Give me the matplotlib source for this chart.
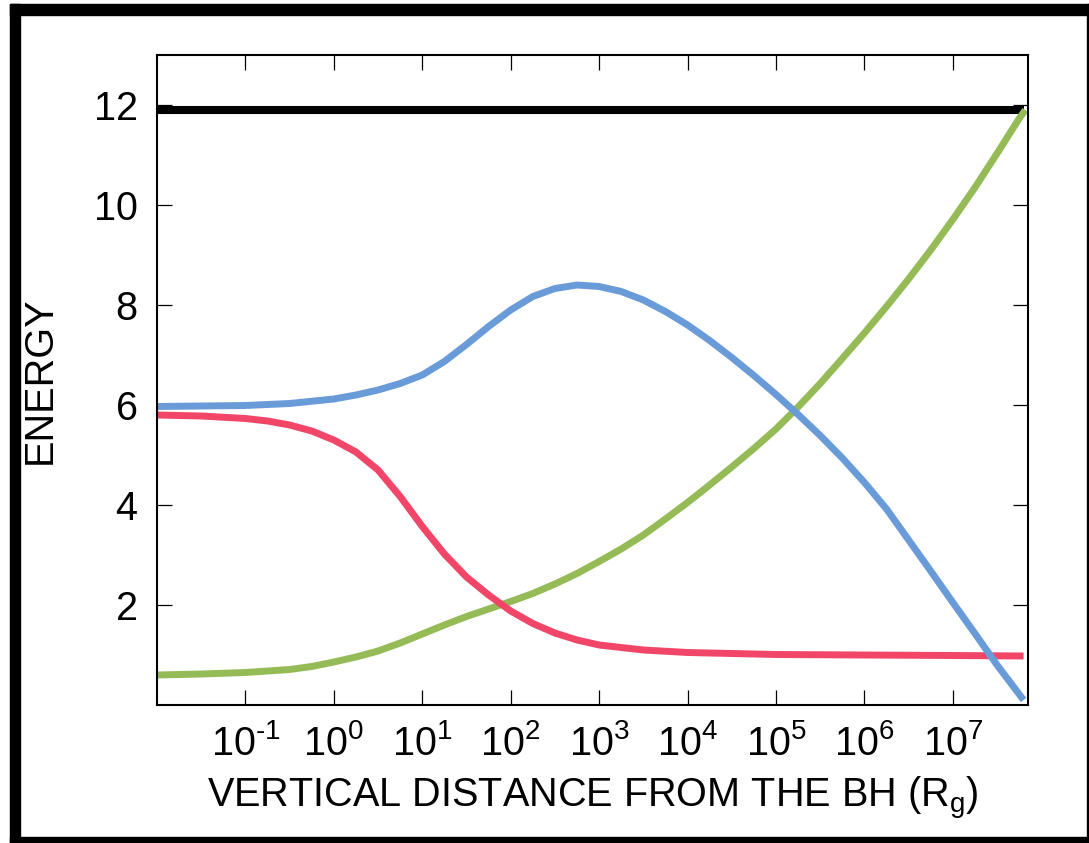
import numpy as np
import matplotlib
matplotlib.use("Agg")
import matplotlib.pyplot as plt
from matplotlib.patches import Rectangle

plt.rcParams['font.family'] = ['Liberation Sans', 'DejaVu Sans']
plt.rcParams['mathtext.fontset'] = 'custom'
plt.rcParams['mathtext.rm'] = 'Liberation Sans'
plt.rcParams['mathtext.it'] = 'Liberation Sans:italic'
plt.rcParams['mathtext.default'] = 'regular'

# ---- data (log10 of distance, energy) ----
blue_log = [-2.0, -1.0, -0.5, 0.0, 0.25, 0.5, 0.75, 1.0, 1.25, 1.5, 1.75, 2.0, 2.25, 2.5,
            2.75, 3.0, 3.25, 3.5, 3.75, 4.0, 4.25, 4.5, 4.75, 5.0, 5.25, 5.5, 5.75, 6.0,
            6.25, 6.5, 6.75, 7.0, 7.25, 7.5, 7.8]
blue_E = [5.97, 5.99, 6.03, 6.12, 6.2, 6.3, 6.43, 6.6, 6.87, 7.21, 7.57, 7.9, 8.17, 8.33,
          8.4, 8.37, 8.27, 8.1, 7.87, 7.6, 7.29, 6.95, 6.59, 6.21, 5.81, 5.39, 4.94, 4.45,
          3.92, 3.3, 2.68, 2.05, 1.43, 0.8, 0.1]

green_log = [-2.0, -1.5, -1.0, -0.5, -0.25, 0.0, 0.25, 0.5, 0.75, 1.0, 1.25, 1.5, 1.75,
             2.0, 2.25, 2.5, 2.75, 3.0, 3.25, 3.5, 3.75, 4.0, 4.25, 4.5, 4.75, 5.0, 5.25,
             5.5, 5.75, 6.0, 6.25, 6.5, 6.75, 7.0, 7.25, 7.5, 7.75, 7.82]
green_E = [0.6, 0.62, 0.65, 0.71, 0.77, 0.86, 0.96, 1.08, 1.24, 1.42, 1.6, 1.77, 1.92,
           2.07, 2.23, 2.42, 2.63, 2.87, 3.12, 3.4, 3.72, 4.05, 4.4, 4.76, 5.13, 5.52, 5.96,
           6.43, 6.93, 7.44, 7.97, 8.52, 9.1, 9.71, 10.35, 11.03, 11.73, 11.9]

red_log = [-2.0, -1.5, -1.0, -0.75, -0.5, -0.25, 0.0, 0.25, 0.5, 0.75, 1.0, 1.25, 1.5,
           1.75, 2.0, 2.25, 2.5, 2.75, 3.0, 3.5, 4.0, 4.5, 5.0, 6.0, 7.0, 7.8]
red_E = [5.8, 5.78, 5.73, 5.68, 5.6, 5.48, 5.3, 5.06, 4.7, 4.17, 3.57, 3.02, 2.56,
         2.2, 1.88, 1.63, 1.44, 1.3, 1.2, 1.1, 1.05, 1.03, 1.01, 1.0, 0.99, 0.98]

black_log = [-2.0, 7.8]
black_E = [11.9, 11.9]

xtick_exp = [-1, 0, 1, 2, 3, 4, 5, 6, 7]
xtick_labels = [r'$10^{\text{-}1}$', r'$10^{0}$', r'$10^{1}$', r'$10^{2}$', r'$10^{3}$',
                r'$10^{4}$', r'$10^{5}$', r'$10^{6}$', r'$10^{7}$']
yticks = [2, 4, 6, 8, 10, 12]

BLUE = '#6a9bd9'
RED = '#f24668'
GREEN = '#95bb57'

W, H = 1089, 843
fig = plt.figure(figsize=(W / 100, H / 100), dpi=100)
ax = fig.add_axes([157 / W, 1 - 705 / H, (1028 - 157) / W, (705 - 55) / H])

to_x = lambda l: [10.0 ** v for v in l]
ax.plot(to_x(black_log), black_E, color='black', lw=5.8, solid_capstyle='butt')
ax.plot(to_x(green_log), green_E, color=GREEN, lw=5.0, solid_capstyle='butt', solid_joinstyle='round')
ax.plot(to_x(red_log), red_E, color=RED, lw=5.0, solid_capstyle='butt', solid_joinstyle='round')
ax.plot(to_x(blue_log), blue_E, color=BLUE, lw=5.0, solid_capstyle='butt', solid_joinstyle='round')

ax.set_xscale('log')
ax.set_xlim(10 ** -2.0, 10 ** 7.85)
ax.set_ylim(0, 13)
ax.set_xticks([10.0 ** e for e in xtick_exp])
ax.set_xticklabels(xtick_labels)
ax.xaxis.set_minor_locator(matplotlib.ticker.NullLocator())
ax.set_yticks(yticks)
ax.set_yticklabels([str(v) for v in yticks])

FS = 28.5
ax.tick_params(axis='both', which='major', direction='in', length=11, width=0.9,
               labelsize=FS, top=True, right=True)
ax.tick_params(axis='x', pad=14)
ax.tick_params(axis='y', pad=14)
for s in ax.spines.values():
    s.set_linewidth(1.5)

ax.set_xlabel('VERTICAL DISTANCE FROM THE BH (R$_{g}$)', fontsize=FS, labelpad=8)
ax.set_ylabel('ENERGY', fontsize=FS, labelpad=25)

# thick frame around the figure
def frame(x0, y0, x1, y1):
    fig.patches.append(Rectangle((x0 / W, 1 - y1 / H), (x1 - x0) / W, (y1 - y0) / H,
                                 transform=fig.transFigure, color='black', zorder=10))
frame(10, 4, 1089, 15)
frame(10, 4, 20, 843)
frame(10, 837, 1089, 843)
frame(1087, 4, 1089, 843)

fig.savefig('out.png', dpi=100)
